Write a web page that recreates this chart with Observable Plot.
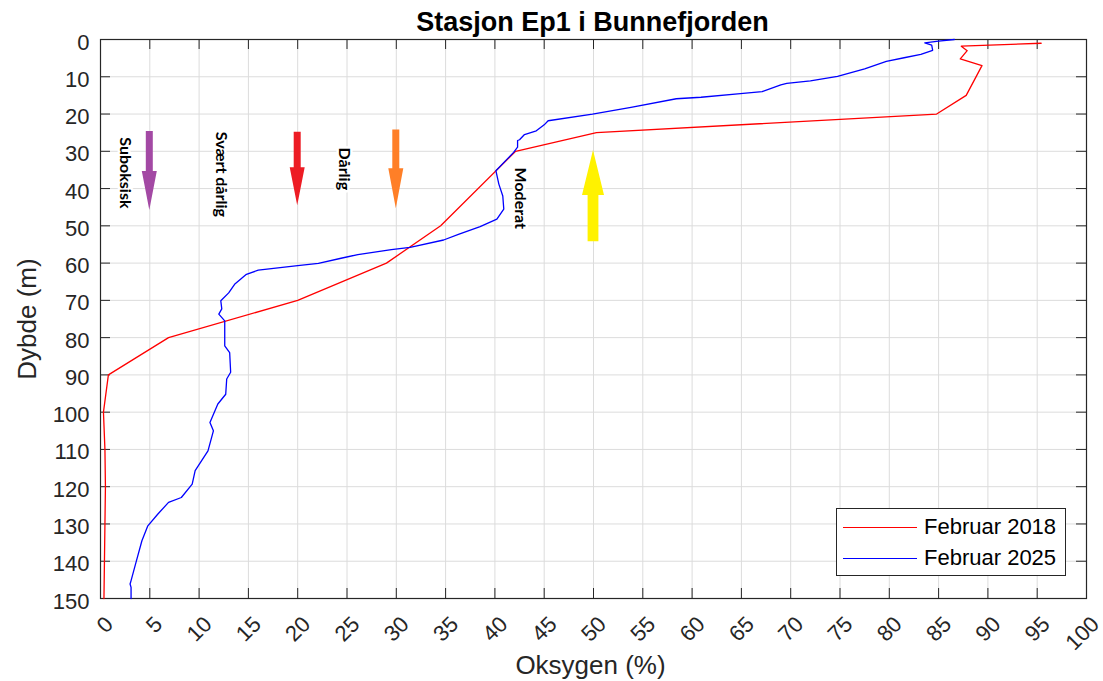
<!DOCTYPE html>
<html><head><meta charset="utf-8">
<script src="https://cdn.jsdelivr.net/npm/d3@7"></script>
<script src="https://cdn.jsdelivr.net/npm/@observablehq/plot@0.6"></script>
<style>
body{margin:0;background:#fff;}
#wrap{position:relative;width:1103px;height:681px;overflow:hidden;}
#legend{position:absolute;left:836px;top:508px;width:230px;height:68px;border:1px solid #262626;background:#fff;font-family:"Liberation Sans",Arial,sans-serif;font-size:22px;color:#000;box-sizing:border-box;}
.row{position:absolute;left:0;height:30px;display:flex;align-items:center;white-space:nowrap;}
.sw{width:74px;height:0;border-top:1.5px solid;margin-left:6px;margin-right:7px;}
</style></head>
<body>
<div id="wrap"><div id="legend"></div></div>
<script>
// ---- data ----
const title = "Stasjon Ep1 i Bunnefjorden";
const xLabel = "Oksygen (%)";
const yLabel = "Dybde (m)";
const seriesNames = ["Februar 2018", "Februar 2025"];
const seriesColors = ["#ff0000", "#0000ff"];

const oxy2018   = [95.4, 87.3, 87.9, 87.2, 89.4, 87.8, 84.8, 50.3, 42.1, 34.5, 29.0, 20.0, 6.9, 0.8, 0.3, 0.45, 0.5, 0.45, 0.4, 0.35];
const depth2018 = [1.0, 1.8, 3.0, 5.2, 7.0, 15.0, 20.0, 25.0, 30.0, 50.0, 60.0, 70.0, 80.0, 90.0, 100, 110, 120, 130, 140, 150];

const oxy2025   = [86.6, 85.0, 83.6, 84.3, 84.4, 83.2, 81.5, 79.7, 77.5, 74.75, 72.0, 69.6, 69.0, 67.1, 64.9, 60.9, 58.4, 53.8, 49.9, 45.4, 45.0, 44.2, 43.0, 42.5, 42.3, 42.3, 41.9, 40.1, 40.4, 40.8, 40.9, 40.2, 38.5, 36.3, 34.8, 31.4, 29.5, 26.1, 24.4, 22.1, 20.0, 16.0, 14.8, 13.6, 13.0, 12.2, 12.3, 12.0, 12.6, 12.6, 13.1, 13.2, 12.8, 12.7, 11.9, 11.1, 11.45, 10.9, 9.6, 9.3, 8.2, 6.9, 5.8, 4.8, 4.2, 3.6, 3.1, 3.0, 3.1, 3.1];
const depth2025 = [0.0, 0.45, 0.9, 1.5, 2.9, 4.0, 4.9, 5.9, 7.9, 9.9, 11.1, 11.8, 12.2, 14.0, 14.5, 15.5, 15.9, 18.2, 20.0, 21.8, 22.9, 24.5, 25.5, 26.9, 27.1, 28.9, 30.3, 35.2, 38.8, 42.0, 45.5, 48.2, 50.2, 52.3, 53.8, 55.8, 56.4, 57.7, 58.7, 60.1, 60.7, 61.9, 63.0, 65.7, 68.0, 70.1, 72.3, 73.7, 75.5, 82.2, 84.0, 89.3, 91.1, 95.2, 97.8, 102.8, 105.0, 110.4, 115.7, 119.3, 122.9, 124.2, 127.4, 130.5, 134.5, 140.3, 145.2, 146.1, 147.0, 150.0];

const classNames  = ["Suboksisk", "Svært dårlig", "Dårlig", "Moderat"];
const classOxy    = [2.5, 12.2, 24.7, 42.6];
const classDepth  = [35.8, 36.2, 34.7, 42.6];

const arrowOxy    = [5, 20, 30, 50];
const arrowFrom   = [24.7, 24.9, 24.3, 54.3];
const arrowTo     = [45.9, 44.6, 45.4, 29.8];
const arrowColors = ["#a349a4", "#ed1c24", "#ff7f27", "#fff200"];

const xTicks = [0, 5, 10, 15, 20, 25, 30, 35, 40, 45, 50, 55, 60, 65, 70, 75, 80, 85, 90, 95, 100];
const yTicks = [0, 10, 20, 30, 40, 50, 60, 70, 80, 90, 100, 110, 120, 130, 140, 150];

// ---- build tables ----
const s2018 = oxy2018.map((x, i) => ({x, y: depth2018[i]}));
const s2025 = oxy2025.map((x, i) => ({x, y: depth2025[i]}));
const labels = classNames.map((t, i) => ({t, x: classOxy[i], y: classDepth[i]}));
const arrows = arrowOxy.map((x, i) => ({x, from: arrowFrom[i], to: arrowTo[i], color: arrowColors[i]}));
// arrow styles (pixels): [shaft half-width, head half-width, head length]
const arrowStyle = [[3.5, 7.5, 39], [3.5, 7.5, 38], [3.5, 7.5, 40], [5.4, 11, 45]];

const W = 1103, H = 681, mT = 39, mB = 83, mL = 100, mR = 17;
const innerW = W - mL - mR, innerH = H - mT - mB;
const axisColor = "#262626";

const chart = Plot.plot({
  width: W, height: H,
  marginTop: mT, marginBottom: mB, marginLeft: mL, marginRight: mR,
  style: {fontFamily: "'Liberation Sans', Arial, sans-serif", fontSize: "22px", color: axisColor, background: "#fff", overflow: "visible"},
  x: {domain: [0, 100]},
  y: {domain: [0, 150], reverse: true},
  marks: [
    Plot.gridX(xTicks, {stroke: "#dcdcdc", strokeOpacity: 1}),
    Plot.gridY(yTicks, {stroke: "#dcdcdc", strokeOpacity: 1}),
    // inward ticks on all four sides
    Plot.ruleX(xTicks, {x: d => d, insetBottom: innerH - 10, stroke: axisColor}),
    Plot.ruleX(xTicks, {x: d => d, insetTop: innerH - 10, stroke: axisColor}),
    Plot.ruleY(yTicks, {y: d => d, insetRight: innerW - 10, stroke: axisColor}),
    Plot.ruleY(yTicks, {y: d => d, insetLeft: innerW - 10, stroke: axisColor}),
    Plot.frame({stroke: axisColor, strokeWidth: 1.2}),
    // arrows
    Plot.ruleX(arrows, {
      x: "x", y1: "from", y2: "to",
      render(index, scales, values) {
        const g = d3.create("svg:g");
        for (const i of index) {
          const [s, h, L] = arrowStyle[i];
          const cx = values.x[i], ya = values.y1[i], yb = values.y2[i];
          const dir = yb > ya ? 1 : -1;
          const yh = yb - dir * L;
          const pts = [[cx - s, ya], [cx + s, ya], [cx + s, yh], [cx + h, yh], [cx, yb], [cx - h, yh], [cx - s, yh]];
          g.append("path").attr("d", "M" + pts.map(p => p.join(",")).join("L") + "Z").attr("fill", arrows[i].color);
        }
        return g.node();
      }
    }),
    // class labels
    Plot.text(labels, {x: "x", y: "y", text: "t", rotate: 90, fontFamily: "Lato, 'Open Sans', sans-serif", fontWeight: 700, fontSize: 16, fill: "#000", stroke: "#fff", strokeWidth: 5}),
    // series
    Plot.line(s2018, {x: "x", y: "y", stroke: seriesColors[0], strokeWidth: 1.3}),
    Plot.line(s2025, {x: "x", y: "y", stroke: seriesColors[1], strokeWidth: 1.3}),
    // axes
    Plot.axisX(xTicks, {tickSize: 0, tickRotate: -45, textAnchor: "end", lineAnchor: "middle", tickPadding: 22, dx: 9, label: null, fill: axisColor}),
    Plot.axisY(yTicks, {tickSize: 0, tickPadding: 11, dy: 3, label: null, fill: axisColor}),
    // axis labels and title
    Plot.text([xLabel], {text: d => d, frameAnchor: "bottom", textAnchor: "middle", lineAnchor: "middle", dy: 67, dx: -3, fontSize: 26, fill: axisColor}),
    Plot.text([yLabel], {text: d => d, frameAnchor: "left", textAnchor: "middle", lineAnchor: "middle", rotate: -90, dx: -73, fontSize: 26, fill: axisColor}),
    Plot.text([title], {text: d => d, frameAnchor: "top", textAnchor: "middle", lineAnchor: "middle", dy: -17.5, dx: -1, fontSize: 27, fontWeight: "bold", fill: "#000"})
  ]
});

const wrap = document.getElementById("wrap");
wrap.insertBefore(chart, wrap.firstChild);

// legend
const legend = document.getElementById("legend");
seriesNames.forEach((name, i) => {
  const row = document.createElement("div");
  row.className = "row";
  row.style.top = (i === 0 ? 3 : 34) + "px";
  const sw = document.createElement("span");
  sw.className = "sw";
  sw.style.borderTopColor = seriesColors[i];
  const tx = document.createElement("span");
  tx.textContent = name;
  row.appendChild(sw); row.appendChild(tx);
  legend.appendChild(row);
});
</script>
</body></html>
